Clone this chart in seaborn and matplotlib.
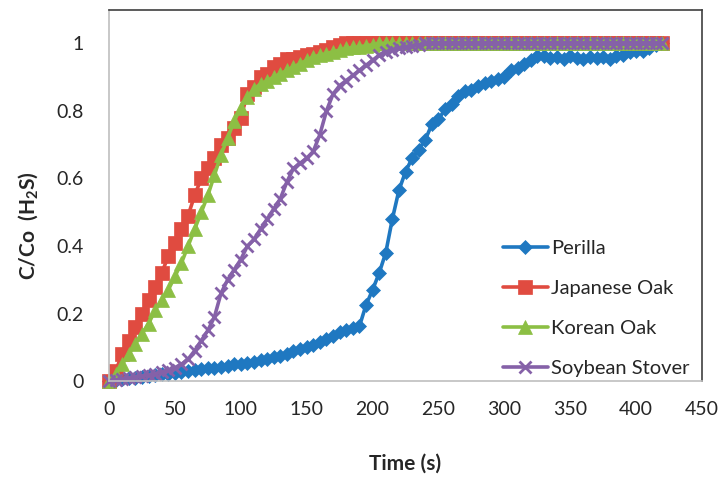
import numpy as np
import pandas as pd
import matplotlib
matplotlib.use('Agg')
import matplotlib.pyplot as plt
import seaborn as sns

# --- Data (5 s sampling) ---
time_s = list(range(0, 425, 5))

perilla = [0, 0.002, 0.005, 0.008, 0.01, 0.012, 0.015, 0.017, 0.02, 0.022,
           0.025, 0.028, 0.03, 0.033, 0.036, 0.038, 0.04, 0.043, 0.046, 0.05,
           0.052, 0.055, 0.058, 0.062, 0.066, 0.07, 0.075, 0.08, 0.088, 0.095,
           0.1, 0.108, 0.115, 0.125, 0.135, 0.145, 0.152, 0.158, 0.162, 0.225,
           0.27, 0.32, 0.38, 0.48, 0.565, 0.62, 0.66, 0.685, 0.715, 0.76,
           0.775, 0.805, 0.82, 0.845, 0.858, 0.862, 0.875, 0.882, 0.89, 0.896,
           0.9, 0.92, 0.926, 0.94, 0.952, 0.962, 0.962, 0.958, 0.96, 0.955,
           0.962, 0.958, 0.955, 0.96, 0.958, 0.96, 0.955, 0.962, 0.965, 0.975,
           0.976, 0.978, 0.985, 0.995, 1.0]

japanese_oak = [0, 0.03, 0.08, 0.12, 0.16, 0.2, 0.24, 0.28, 0.32, 0.37,
                0.41, 0.45, 0.49, 0.55, 0.6, 0.63, 0.66, 0.7, 0.72, 0.75,
                0.78, 0.85, 0.87, 0.9, 0.91, 0.93, 0.94, 0.955, 0.955, 0.96,
                0.965, 0.97, 0.975, 0.98, 0.99, 0.995] + [1.0] * 49

korean_oak = [0, 0.02, 0.05, 0.08, 0.11, 0.14, 0.17, 0.21, 0.24, 0.27,
              0.31, 0.35, 0.4, 0.45, 0.5, 0.55, 0.61, 0.67, 0.72, 0.77,
              0.81, 0.84, 0.865, 0.88, 0.89, 0.9, 0.91, 0.92, 0.93, 0.94,
              0.95, 0.96, 0.965, 0.97, 0.975, 0.98, 0.985, 0.988, 0.99, 0.993,
              0.996] + [1.0] * 44

soybean_stover = [0, 0.003, 0.006, 0.01, 0.012, 0.015, 0.018, 0.022, 0.026, 0.032,
                  0.04, 0.05, 0.065, 0.09, 0.12, 0.15, 0.19, 0.26, 0.3, 0.33,
                  0.36, 0.4, 0.42, 0.45, 0.48, 0.51, 0.54, 0.59, 0.63, 0.645,
                  0.66, 0.68, 0.73, 0.8, 0.85, 0.875, 0.89, 0.905, 0.92, 0.935,
                  0.95, 0.965, 0.975, 0.98, 0.985, 0.99, 0.993, 0.996] + [1.0] * 37

series = ['Perilla', 'Japanese Oak', 'Korean Oak', 'Soybean Stover']
values = [perilla, japanese_oak, korean_oak, soybean_stover]

df = pd.concat([pd.DataFrame({'Time': time_s, 'C/Co': v, 'Sample': name})
                for name, v in zip(series, values)], ignore_index=True)

# --- Style ---
sns.set_style('white')
plt.rcParams['font.family'] = ['Lato', 'DejaVu Sans']
plt.rcParams['mathtext.fontset'] = 'custom'
plt.rcParams['mathtext.rm'] = 'Lato:bold'
plt.rcParams['mathtext.it'] = 'Lato:bold'

colors = {'Perilla': '#1f78c1', 'Japanese Oak': '#e04b40',
          'Korean Oak': '#8cbf44', 'Soybean Stover': '#8561a8'}
markers = {'Perilla': 'D', 'Japanese Oak': 's',
           'Korean Oak': '^', 'Soybean Stover': 'x'}
msizes = {'Perilla': 7, 'Japanese Oak': 10, 'Korean Oak': 10, 'Soybean Stover': 9}

fig = plt.figure(figsize=(7.19, 4.8), dpi=100)
ax = fig.add_axes([0.1516, 0.206, 0.8248, 0.774])

for name in series:
    sub = df[df['Sample'] == name]
    sns.lineplot(data=sub, x='Time', y='C/Co', ax=ax, color=colors[name],
                 marker=markers[name], markersize=msizes[name],
                 markeredgecolor=colors[name],
                 markeredgewidth=2.0 if name == 'Soybean Stover' else 0.5,
                 linewidth=2.6, label=name, clip_on=False)

ax.set_xlim(0, 450)
ax.set_ylim(0, 1.1)
ax.set_xticks(range(0, 451, 50))
ax.set_yticks([0, 0.2, 0.4, 0.6, 0.8, 1.0])
ax.set_yticklabels(['0', '0.2', '0.4', '0.6', '0.8', '1'])
ax.tick_params(axis='both', length=0, labelsize=14, colors='#262626')
ax.tick_params(axis='x', pad=14)
ax.tick_params(axis='y', pad=18)

ax.set_xlabel('Time (s)', fontsize=15, fontweight='bold', labelpad=26)
ax.set_ylabel('C/Co  (H$_2$S)', fontsize=15, fontweight='bold')
ax.yaxis.set_label_coords(-0.116, 0.42)

for side in ['left', 'bottom']:
    ax.spines[side].set_color('#bfbfbf')
    ax.spines[side].set_linewidth(1.2)
for side in ['top', 'right']:
    ax.spines[side].set_color('#404040')
    ax.spines[side].set_linewidth(1.2)

ax.legend(loc='upper left', bbox_to_anchor=(0.65, 0.403), frameon=False,
          fontsize=14.5, handlelength=2.25, handletextpad=0.15, labelspacing=1.15,
          borderaxespad=0)

fig.savefig('out.png', dpi=100)
